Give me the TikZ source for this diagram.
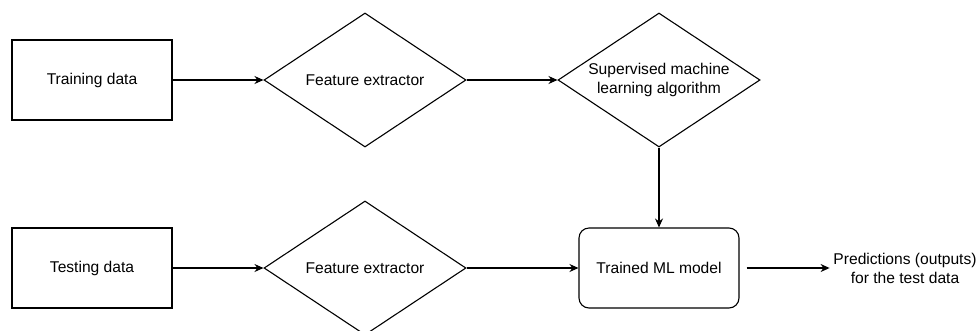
\documentclass[tikz,border=0pt]{standalone}
\usepackage{fontspec}
\setmainfont{Liberation Sans}
\usetikzlibrary{shapes.geometric,arrows.meta}

\begin{document}
\begin{tikzpicture}[node distance=188pt, auto, >={Stealth[length=9pt,width=8pt]}, line width=1.1pt,
        font=\fontsize{15.6}{19}\selectfont]
        \tikzstyle{databox}=[draw, rectangle, minimum width=160pt, minimum height=80pt];
        \tikzstyle{stage}=[draw, diamond, aspect=1.5, inner sep=0pt, minimum width=202pt, minimum height=134pt, align=center];
        \tikzstyle{model}=[draw, rectangle, rounded corners=10pt, minimum width=160pt, minimum height=80pt];

        \useasboundingbox (0,0) rectangle (979pt,-330pt);

        \node[databox] (train) at (92pt,-80pt) {Training data};
        \node[stage, right of=train, xshift=85pt] (feat1) {Feature extractor};
        \node[stage, right of=feat1, xshift=106pt] (sup) {Supervised machine\\learning algorithm};
        \node[databox, below of=train] (test) {Testing data};
        \node[stage, below of=feat1] (feat2) {Feature extractor};
        \node[model, below of=sup] (trained) {Trained ML model};
        \node[align=center, right of=trained, xshift=58pt] (pred) {Predictions (outputs)\\for the test data};

        \draw[->] (train) -- (feat1);
        \draw[->] (feat1) -- (sup);
        \draw[->] (sup) -- (trained);
        \draw[->] (test) -- (feat2);
        \draw[->] (feat2) -- (trained);
        \draw[->, shorten <=7pt] (trained) -- (pred);
    \end{tikzpicture}
\end{document}
